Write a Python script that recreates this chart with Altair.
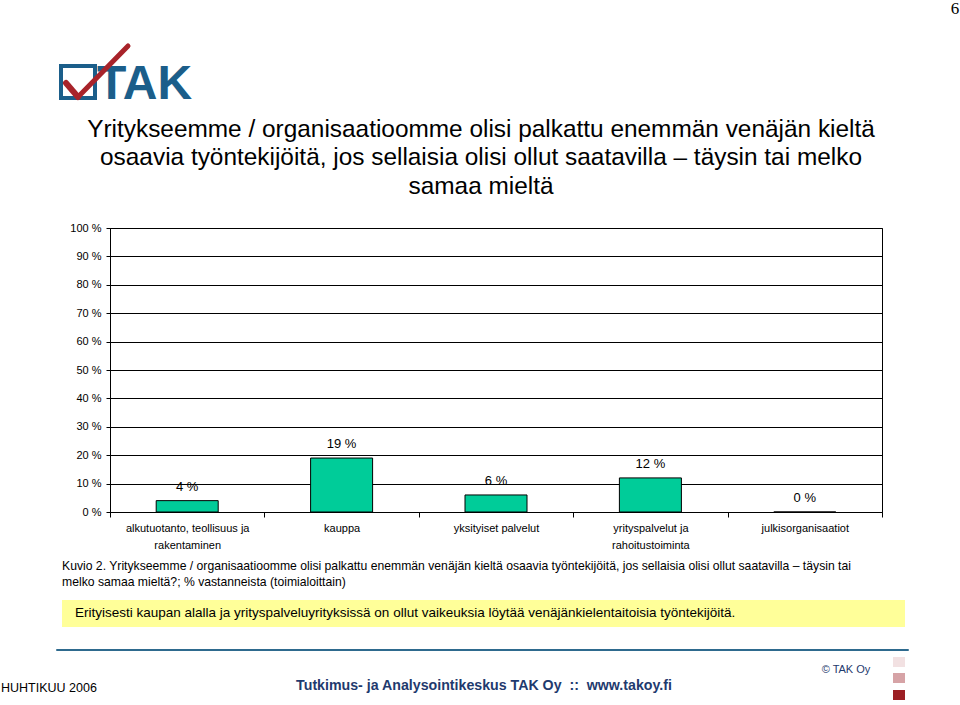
import altair as alt
import pandas as pd

# ---- data ----
categories = [
    "alkutuotanto, teollisuus ja rakentaminen",
    "kauppa",
    "yksityiset palvelut",
    "yrityspalvelut ja rahoitustoiminta",
    "julkisorganisaatiot",
]
category_lines = [
    ["alkutuotanto, teollisuus ja", "rakentaminen"],
    ["kauppa"],
    ["yksityiset palvelut"],
    ["yrityspalvelut ja", "rahoitustoiminta"],
    ["julkisorganisaatiot"],
]
values = [4, 19, 6, 12, 0]
y_ticks = [0, 10, 20, 30, 40, 50, 60, 70, 80, 90, 100]

title_lines = [
    "Yritykseemme / organisaatioomme olisi palkattu enemmän venäjän kieltä",
    "osaavia työntekijöitä, jos sellaisia olisi ollut saatavilla – täysin tai melko",
    "samaa mieltä",
]
caption_lines = [
    "Kuvio 2. Yritykseemme / organisaatioomme olisi palkattu enemmän venäjän kieltä osaavia työntekijöitä, jos sellaisia olisi ollut saatavilla – täysin tai",
    "melko samaa mieltä?; % vastanneista (toimialoittain)",
]
highlight_text = "Erityisesti kaupan alalla ja yrityspalveluyrityksissä on ollut vaikeuksia löytää venäjänkielentaitoisia työntekijöitä."
footer_left = "HUHTIKUU 2006"
footer_center = "Tutkimus- ja Analysointikeskus TAK Oy\u00a0\u00a0::\u00a0\u00a0www.takoy.fi"
footer_copy = "© TAK Oy"
page_number = "6"
logo_text = "TAK"

FONT = "Liberation Sans"
OX, OY = 110, 228  # plot origin on page

df = pd.DataFrame({"cat": categories, "v": values})

parts = []
for c, lines in zip(categories, category_lines):
    arr = "[" + ",".join("'" + l + "'" for l in lines) + "]"
    parts.append(f"datum.label == '{c}' ? {arr} : ")
label_expr = "".join(parts) + "datum.label"

x_enc = alt.X(
    "cat:N",
    sort=categories,
    scale=alt.Scale(paddingInner=0, paddingOuter=0),
    axis=alt.Axis(
        title=None,
        labelAngle=0,
        labelExpr=label_expr,
        labelFontSize=11,
        labelLineHeight=17,
        labelPadding=5,
        tickBand="extent",
        tickSize=5,
        labelLimit=200,
    ),
)
y_enc = alt.Y(
    "v:Q",
    scale=alt.Scale(domain=[0, 100]),
    axis=alt.Axis(
        title=None,
        values=y_ticks,
        labelExpr="datum.value + ' %'",
        labelFontSize=11,
        labelOverlap=False,
        tickSize=4,
        labelPadding=5,
        grid=True,
        gridColor="black",
        gridWidth=1,
    ),
)

base = alt.Chart(df)
bars = base.mark_bar(width=62, color="#00cc99", stroke="black", strokeWidth=1).encode(x=x_enc, y=y_enc)
labels = base.transform_calculate(lbl="datum.v + ' %'").mark_text(
    dy=-14, fontSize=13, font=FONT, color="black"
).encode(x=x_enc, y=y_enc, text="lbl:N")

one = pd.DataFrame({"a": [0]})


def txt(text, x, y, size, align="left", weight="normal", color="black", font=FONT, baseline="middle"):
    return alt.Chart(one).mark_text(
        align=align, baseline=baseline, fontSize=size, fontWeight=weight, color=color, font=font
    ).encode(x=alt.value(x - OX), y=alt.value(y - OY), text=alt.value(text))


def rect(x, y, x2, y2, fill, stroke=None, sw=0):
    kw = dict(fill=fill)
    if stroke:
        kw.update(stroke=stroke, strokeWidth=sw)
    return alt.Chart(one).mark_rect(**kw).encode(
        x=alt.value(x - OX), x2=alt.value(x2 - OX), y=alt.value(y - OY), y2=alt.value(y2 - OY)
    )


def seg(x, y, x2, y2, color, w):
    return alt.Chart(one).mark_rule(color=color, strokeWidth=w, strokeCap="round").encode(
        x=alt.value(x - OX), x2=alt.value(x2 - OX), y=alt.value(y - OY), y2=alt.value(y2 - OY)
    )


decor = []
# logo
decor.append(rect(61, 66, 95, 98, "white", "#1b5e8a", 4))
decor.append(txt(logo_text, 97, 99, 48, weight="bold", color="#1b5e8a", baseline="alphabetic"))
decor.append(seg(66, 83, 78, 97, "#a8232a", 6))
decor.append(seg(78, 97, 128, 46, "#a8232a", 5))
# title
for line, yy in zip(title_lines, [130, 158, 187]):
    decor.append(txt(line, 481, yy, 24.4, align="center"))
# caption
for line, yy in zip(caption_lines, [566, 582]):
    decor.append(txt(line, 62, yy, 12.2))
# highlight box
decor.append(rect(62, 600, 905, 627, "#ffff99"))
decor.append(txt(highlight_text, 75, 613, 13.5))
# footer
decor.append(seg(57, 650, 908, 650, "#2e6a8e", 2))
decor.append(txt(footer_left, 1, 688, 12.5))
decor.append(txt(footer_center, 484, 686, 14.2, align="center", weight="bold", color="#1f3a6e"))
decor.append(txt(footer_copy, 846, 670, 11, align="center", color="#1f3a6e"))
decor.append(rect(893, 657, 905, 667, "#f2e1e2"))
decor.append(rect(893, 673, 905, 683, "#d6a3a6"))
decor.append(rect(893, 690, 905, 700, "#9c1f24"))
decor.append(txt(page_number, 955, 9, 17, align="center", font="Liberation Serif"))

chart = alt.layer(bars, labels, *decor).properties(
    width=772,
    height=284,
    autosize="none",
    padding={"left": OX, "top": OY, "right": 960 - OX - 772, "bottom": 705 - OY - 284},
    background="white",
).configure_view(stroke="black", strokeWidth=1).configure_axis(
    labelFont=FONT,
    labelColor="black",
    domainColor="black",
    tickColor="black",
)

chart.save("out.html", embed_options={"renderer": "svg", "actions": False})
